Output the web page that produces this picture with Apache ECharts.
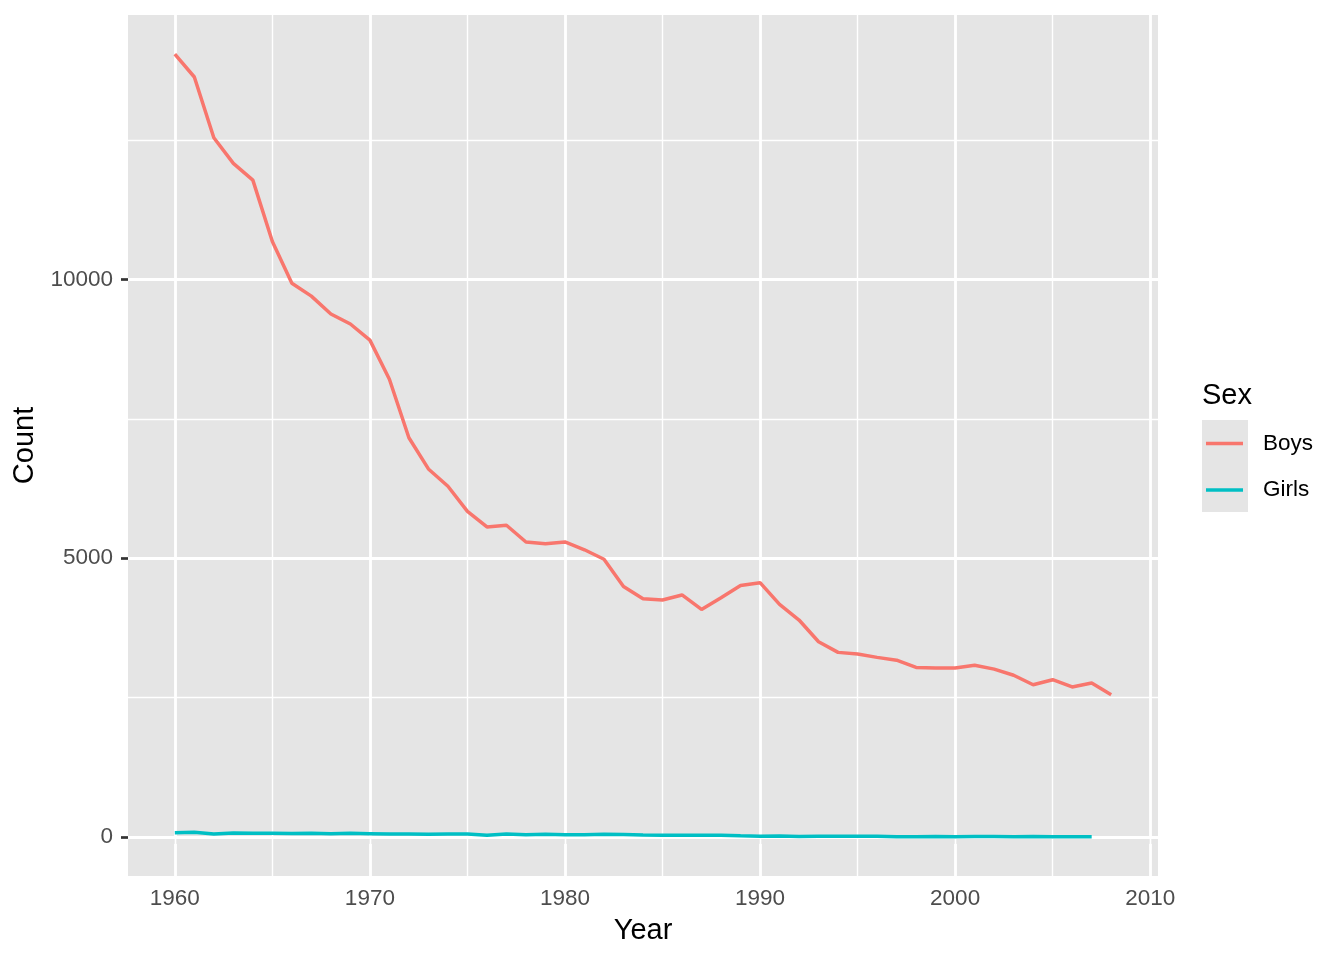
<!DOCTYPE html>
<html>
<head>
<meta charset="utf-8">
<title>Count by Year and Sex</title>
<script src="https://cdn.jsdelivr.net/npm/echarts@6/dist/echarts.min.js"></script>
<style>
  html, body { margin: 0; padding: 0; background: #fff; }
  #main { width: 1344px; height: 960px; }
</style>
</head>
<body>
<div id="main"></div>
<script>
// data
var years = [1960, 1961, 1962, 1963, 1964, 1965, 1966, 1967, 1968, 1969,
             1970, 1971, 1972, 1973, 1974, 1975, 1976, 1977, 1978, 1979,
             1980, 1981, 1982, 1983, 1984, 1985, 1986, 1987, 1988, 1989,
             1990, 1991, 1992, 1993, 1994, 1995, 1996, 1997, 1998, 1999,
             2000, 2001, 2002, 2003, 2004, 2005, 2006, 2007, 2008];
var boys = [14040, 13630, 12540, 12080, 11780, 10680, 9930, 9700, 9380, 9200,
            8910, 8210, 7160, 6600, 6290, 5840, 5560, 5590, 5290, 5260,
            5290, 5150, 4980, 4490, 4270, 4250, 4340, 4080, 4290, 4510,
            4560, 4170, 3890, 3500, 3310, 3280, 3220, 3170, 3040, 3030,
            3030, 3080, 3010, 2900, 2730, 2820, 2690, 2760, 2550];
// girls stop at 2007
var girls = [77, 83, 53, 71, 65, 65, 62, 68, 59, 65,
             59, 53, 53, 50, 53, 53, 29, 53, 41, 47,
             41, 41, 50, 44, 35, 32, 30, 30, 32, 21,
             12, 15, 9, 12, 12, 12, 12, 3, 2, 6,
             3, 6, 6, 1, 6, 3, 3, 3];

var xMajor = [1960, 1970, 1980, 1990, 2000, 2010];
var xMinor = [1965, 1975, 1985, 1995, 2005];
var yMajor = [0, 5000, 10000];
var yMinor = [2500, 7500, 12500];

var FONT = '"Liberation Sans", Arial, Helvetica, sans-serif';

// ggplot style 5% expansion
function expand(arr) {
    var lo = Math.min.apply(null, arr), hi = Math.max.apply(null, arr);
    var pad = (hi - lo) * 0.05;
    return [lo - pad, hi + pad];
}
var xr = expand(years);
var yr = expand(boys.concat(girls));

function pairs(vals) {
    return vals.map(function(v, i){ return [years[i], v]; });
}

function gridLines(list, dim, w) {
    return list.map(function(v){
        var d = {}; d[dim] = v;
        d.lineStyle = { color: '#fff', width: w, type: 'solid' };
        return d;
    });
}

var chart = echarts.init(document.getElementById('main'));
var option = {
    animation: false,
    backgroundColor: '#fff',
    textStyle: { fontFamily: FONT },
    title: {
        text: 'Sex',
        left: 1202,
        top: 381,
        padding: 0,
        textStyle: { fontFamily: FONT, fontSize: 29, fontWeight: 'normal', color: '#000' }
    },
    legend: {
        orient: 'vertical',
        left: 1206,
        top: 432,
        padding: 0,
        icon: 'rect',
        itemGap: 23.5,
        itemWidth: 37,
        itemHeight: 3.5,
        selectedMode: false,
        data: ['Boys', 'Girls'],
        textStyle: { fontFamily: FONT, fontSize: 22.5, color: '#000', padding: [0, 0, 0, 15] }
    },
    graphic: [{
        type: 'rect',
        left: 1202,
        top: 420,
        z: 0,
        shape: { width: 46, height: 92 },
        style: { fill: '#E5E5E5' }
    }],
    grid: {
        left: 128,
        right: 186,
        top: 15,
        bottom: 84,
        show: true,
        backgroundColor: '#E5E5E5',
        borderWidth: 0
    },
    xAxis: {
        type: 'value',
        min: xr[0],
        max: xr[1],
        name: 'Year',
        nameLocation: 'middle',
        nameGap: 40,
        nameTextStyle: { fontFamily: FONT, fontSize: 29, color: '#000' },
        axisLine: { show: false },
        splitLine: { show: false },
        axisTick: {
            show: true,
            customValues: xMajor,
            length: 7,
            lineStyle: { color: '#333', width: 2.7 }
        },
        axisLabel: {
            customValues: xMajor,
            margin: 11,
            fontFamily: FONT,
            fontSize: 22.5,
            color: '#4D4D4D',
            formatter: function(v){ return String(v); }
        }
    },
    yAxis: {
        type: 'value',
        min: yr[0],
        max: yr[1],
        name: 'Count',
        nameLocation: 'middle',
        nameGap: 88,
        nameTextStyle: { fontFamily: FONT, fontSize: 29, color: '#000' },
        axisLine: { show: false },
        splitLine: { show: false },
        axisTick: {
            show: true,
            customValues: yMajor,
            length: 7,
            lineStyle: { color: '#333', width: 2.7 }
        },
        axisLabel: {
            customValues: yMajor,
            margin: 15,
            fontFamily: FONT,
            fontSize: 22.5,
            color: '#4D4D4D',
            formatter: function(v){ return String(v); }
        }
    },
    series: [
        {
            name: 'Boys',
            type: 'line',
            z: 3,
            data: pairs(boys),
            symbol: 'none',
            color: '#F8766D',
            lineStyle: { color: '#F8766D', width: 3.5 },
            markLine: {
                silent: true,
                z: 1,
                symbol: ['none', 'none'],
                label: { show: false },
                emphasis: { disabled: true },
                data: gridLines(xMinor, 'xAxis', 1.4)
                    .concat(gridLines(yMinor, 'yAxis', 1.4))
                    .concat(gridLines(xMajor, 'xAxis', 2.8))
                    .concat(gridLines(yMajor, 'yAxis', 2.8))
            }
        },
        {
            name: 'Girls',
            type: 'line',
            z: 3,
            data: pairs(girls),
            symbol: 'none',
            color: '#00BFC4',
            lineStyle: { color: '#00BFC4', width: 3.5 }
        }
    ]
};
chart.setOption(option);
</script>
</body>
</html>
